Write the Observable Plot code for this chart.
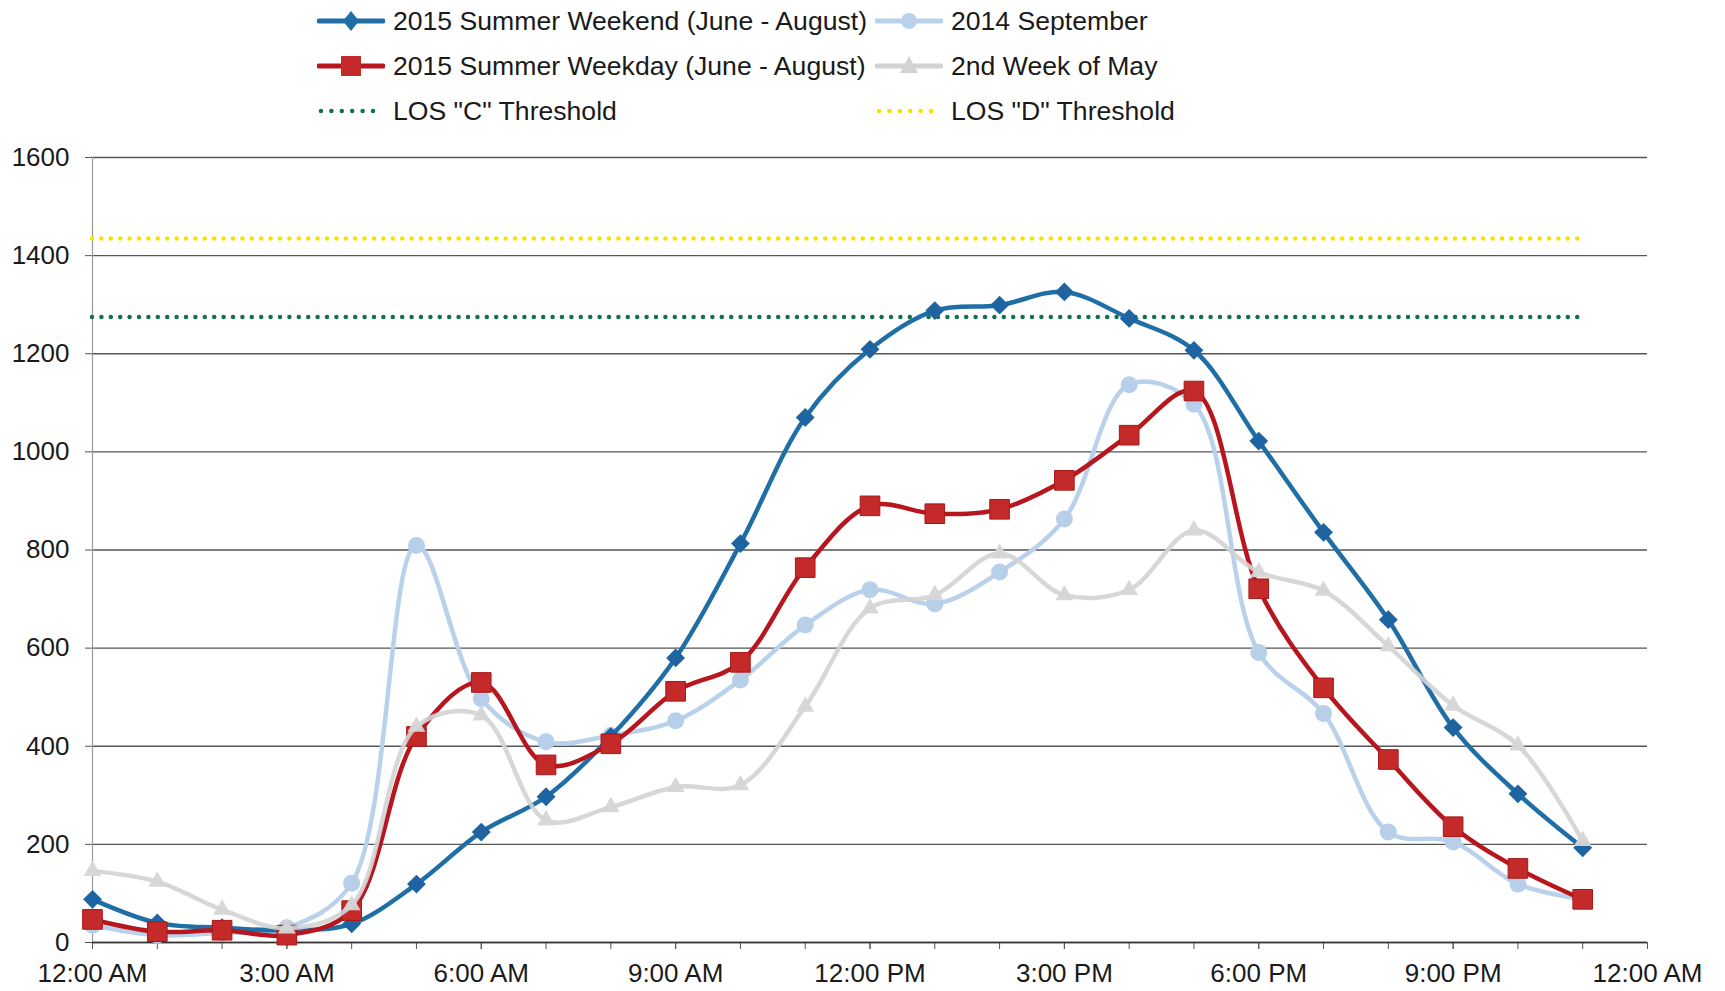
<!DOCTYPE html>
<html><head><meta charset="utf-8">
<script src="https://cdn.jsdelivr.net/npm/d3@7"></script>
<script src="https://cdn.jsdelivr.net/npm/@observablehq/plot@0.6"></script>
<style>
body{margin:0;background:#fff;font-family:"Liberation Sans",Arial,sans-serif;}
#legend{position:relative;width:1725px;height:130px;}
.item{position:absolute;height:40px;display:flex;align-items:center;font-size:26.6px;color:#1a1a1a;white-space:nowrap;}
.item svg{margin-right:8px;display:block}
#chart svg{display:block}
</style></head><body>
<div id="legend"></div>
<div id="chart"></div>
<script>
// ---- data ----
const hours = [0,1,2,3,4,5,6,7,8,9,10,11,12,13,14,15,16,17,18,19,20,21,22,23];
const weekend = [88,40,30,25,38,119,225,297,420,580,813,1070,1209,1288,1299,1326,1272,1207,1022,836,658,438,303,193];
const weekday = [47,22,25,15,65,420,530,362,405,512,571,764,890,874,883,942,1034,1124,721,519,373,236,151,88];
const september = [35,15,20,30,121,809,497,409,422,452,535,647,719,690,755,863,1137,1097,591,467,225,205,119,88];
const may = [146,124,67,29,76,440,463,249,276,317,321,481,681,708,793,708,719,840,755,717,604,483,402,207];
const losC = [1275];
const losD = [1435];
const yTicks = [0,200,400,600,800,1000,1200,1400,1600];
const xTickHours = [0,3,6,9,12,15,18,21,24];
const xTickLabels = ["12:00 AM","3:00 AM","6:00 AM","9:00 AM","12:00 PM","3:00 PM","6:00 PM","9:00 PM","12:00 AM"];
const minorHours = d3.range(0,25);
const seriesNames = ["2015 Summer Weekend (June - August)","2015 Summer Weekday (June - August)","2014 September","2nd Week of May",'LOS "C" Threshold','LOS "D" Threshold'];

const C = {weekend:"#1f6ea6", weekday:"#b8161f", sept:"#b9d1ea", may:"#d3d3d3", losC:"#12704f", losD:"#f3e400"};

const rows = hours.map((h,i)=>({h, weekend:weekend[i], weekday:weekday[i], september:september[i], may:may[i]}));

// ---- legend ----
const legend = document.getElementById("legend");
const items = [
  {name:seriesNames[0], left:317, cy:21, kind:"line", color:C.weekend, sym:"diamond"},
  {name:seriesNames[2], left:875, cy:21, kind:"line", color:C.sept, sym:"circle"},
  {name:seriesNames[1], left:317, cy:66, kind:"line", color:C.weekday, sym:"square"},
  {name:seriesNames[3], left:875, cy:66, kind:"line", color:C.may, sym:"triangle"},
  {name:seriesNames[4], left:317, cy:111, kind:"dots", color:C.losC},
  {name:seriesNames[5], left:875, cy:111, kind:"dots", color:C.losD}
];
for (const it of items) {
  const div = document.createElement("div");
  div.className = "item";
  div.style.left = it.left + "px";
  div.style.top = (it.cy - 20) + "px";
  let s = `<svg width="68" height="30" viewBox="0 0 68 30">`;
  if (it.kind === "line") {
    s += `<line x1="2" x2="66" y1="15" y2="15" stroke="${it.color}" stroke-width="5" stroke-linecap="round"/>`;
    if (it.sym === "diamond") s += `<path d="M34,5 L42,15 L34,25 L26,15Z" fill="${it.color}"/>`;
    if (it.sym === "square") s += `<rect x="24" y="5" width="20" height="20" fill="#c42a2a"/>`;
    if (it.sym === "circle") s += `<circle cx="34" cy="15" r="8" fill="${it.color}"/>`;
    if (it.sym === "triangle") s += `<path d="M34,5 L43,22 L25,22Z" fill="${it.color}"/>`;
  } else {
    s += `<line x1="4" x2="66" y1="15" y2="15" stroke="${it.color}" stroke-width="4.5" stroke-dasharray="0 10.4" stroke-linecap="round"/>`;
  }
  s += `</svg>`;
  div.innerHTML = s + `<span>${it.name}</span>`;
  legend.appendChild(div);
}

// ---- chart ----
const curve = "catmull-rom";
const chart = Plot.plot({
  width: 1725,
  height: 861,
  marginTop: 27,
  marginBottom: 49,
  marginLeft: 92,
  marginRight: 78,
  style: {fontFamily: '"Liberation Sans", Arial, sans-serif', fontSize: "26px", color: "#1a1a1a", background: "#fff"},
  x: {domain: [0, 24]},
  y: {domain: [0, 1600]},
  marks: [
    Plot.gridY(yTicks, {stroke: "#2a2a2a", strokeOpacity: 0.8, strokeWidth: 1.3}),
    Plot.ruleX([0], {y1: 0, y2: 1600, stroke: "#9a9a9a", strokeWidth: 1.2}),
    Plot.axisY(yTicks, {tickSize: 7, tickPadding: 16, tickFormat: d3.format("d"), label: null, fontSize: 26, stroke: "#555"}),
    Plot.axisX(minorHours, {tickSize: 7, tickFormat: () => "", label: null, stroke: "#555"}),
    Plot.axisX(xTickHours, {tickSize: 7, tickPadding: 14, tickFormat: (d, i) => xTickLabels[i], label: null, fontSize: 26, stroke: "#555"}),
    Plot.ruleY([0], {stroke: "#333", strokeWidth: 1.5}),
    Plot.ruleY(losD, {x1: 0, x2: 23, stroke: C.losD, strokeWidth: 4.5, strokeDasharray: "0 9.4", strokeLinecap: "round"}),
    Plot.ruleY(losC, {x1: 0, x2: 23, stroke: C.losC, strokeWidth: 4.5, strokeDasharray: "0 9.4", strokeLinecap: "round"}),
    // September
    Plot.line(rows, {x: "h", y: "september", curve, stroke: C.sept, strokeWidth: 4.5}),
    Plot.dot(rows, {x: "h", y: "september", symbol: "circle", r: 8.5, fill: "#b7cfe9"}),
    // Weekend
    Plot.line(rows, {x: "h", y: "weekend", curve, stroke: C.weekend, strokeWidth: 4.5}),
    Plot.dot(rows, {x: "h", y: "weekend", symbol: "diamond2", r: 8.5, fill: "#1e64a0"}),
    // Weekday
    Plot.line(rows, {x: "h", y: "weekday", curve, stroke: C.weekday, strokeWidth: 4.5}),
    Plot.dot(rows, {x: "h", y: "weekday", symbol: "square2", r: 12.5, fill: "#c42a2a", stroke: "#a81818", strokeWidth: 1}),
    // May
    Plot.line(rows, {x: "h", y: "may", curve, stroke: C.may, strokeWidth: 4.5, strokeOpacity: 0.9}),
    Plot.dot(rows, {x: "h", y: "may", symbol: "triangle2", r: 8.5, fill: "#d6d6d6", fillOpacity: 0.95})
  ]
});
document.getElementById("chart").appendChild(chart);
</script>
</body></html>
